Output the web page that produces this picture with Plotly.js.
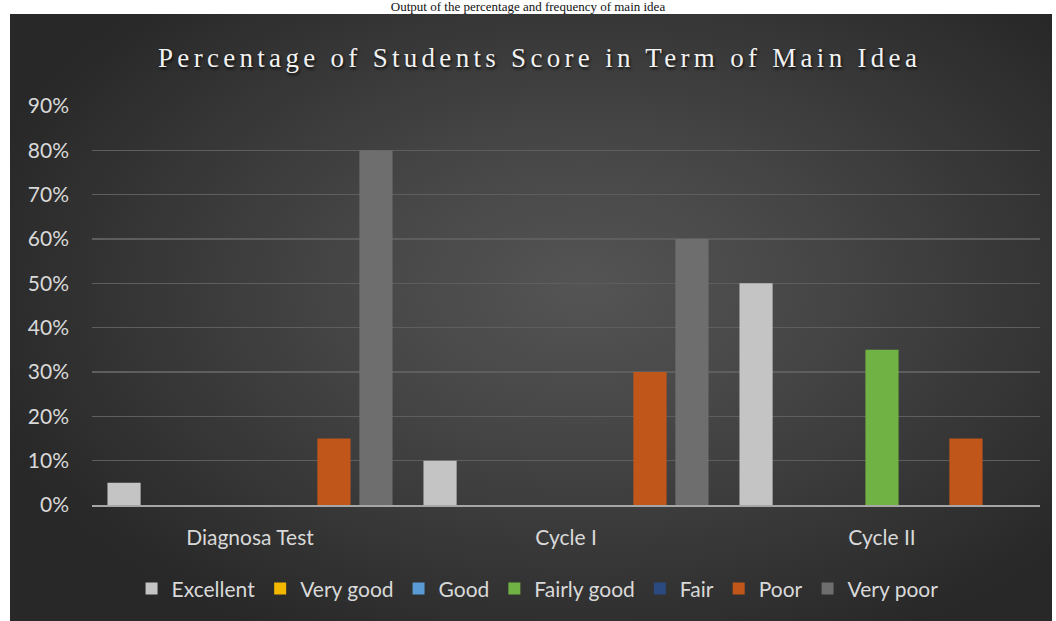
<!DOCTYPE html>
<html>
<head>
<meta charset="utf-8">
<script src="https://cdn.plot.ly/plotly-3.0.1.min.js"></script>
<style>
  html, body { margin:0; padding:0; background:#ffffff; }
  #wrap { position:relative; width:1056px; height:621px; overflow:hidden; background:#ffffff; }
  #caption { position:absolute; left:0; top:0px; width:1056px; text-align:center; line-height:13px;
    font-family:"Liberation Serif", serif; font-size:13px; color:#111; white-space:nowrap; }
  #bg { position:absolute; left:10px; top:14px; width:1042px; height:607px;
    background: radial-gradient(ellipse 60% 65% at 55% 45%, #545454 0%, #474747 35%, #343434 75%, #282828 100%); }
  #chart { position:absolute; left:0; top:0; width:1056px; height:621px; }
  #chart .gtitle { letter-spacing: 4.3px; }
</style>
</head>
<body>
<div id="wrap">
  <div id="caption">Output of the percentage and frequency of main idea</div>
  <div id="bg"></div>
  <div id="chart"></div>
</div>
<script>
const categories = ["Diagnosa Test", "Cycle I", "Cycle II"];
const seriesNames = ["Excellent", "Very good", "Good", "Fairly good", "Fair", "Poor", "Very poor"];
const excellent  = [5, 10, 50];
const veryGood   = [0, 0, 0];
const good       = [0, 0, 0];
const fairlyGood = [0, 0, 35];
const fair       = [0, 0, 0];
const poor       = [15, 30, 15];
const veryPoor   = [80, 60, 0];
const seriesValues = [excellent, veryGood, good, fairlyGood, fair, poor, veryPoor];
const seriesColors = ["#c4c4c4", "#f2b800", "#5b9bd5", "#70b244", "#2b4a80", "#c0561a", "#6e6e6e"];
const yTickValues = [0, 10, 20, 30, 40, 50, 60, 70, 80, 90];
const yTickLabels = ["0%", "10%", "20%", "30%", "40%", "50%", "60%", "70%", "80%", "90%"];

const traces = seriesNames.map((name, i) => ({
  type: "bar",
  name: name,
  x: categories,
  y: seriesValues[i],
  marker: { color: seriesColors[i], line: { width: 0 } },
  hoverinfo: "x+y+name"
}));

const textColor = "#d9d9d9";
const layout = {
  width: 1056,
  height: 621,
  paper_bgcolor: "rgba(0,0,0,0)",
  plot_bgcolor: "rgba(0,0,0,0)",
  margin: { l: 92, r: 16, t: 106, b: 116, pad: 0 },
  barmode: "group",
  bargap: 0.07,
  bargroupgap: 0.21,
  font: { family: "Lato, 'Noto Sans', sans-serif", size: 21, color: textColor },
  title: {
    text: "Percentage of Students Score in Term of Main Idea",
    x: 0.511, xanchor: "center",
    y: 0.907, yanchor: "middle", yref: "container",
    font: { family: "'Liberation Serif', serif", size: 27, color: "#f2f2f2", weight: 400,
            shadow: "1px 2px 3px rgba(0,0,0,0.8)" }
  },
  xaxis: {
    type: "category",
    showgrid: false,
    showline: true, linecolor: "#a6a6a6", linewidth: 2,
    ticks: "", ticklabelstandoff: 13,
    tickfont: { size: 21, color: textColor },
    zeroline: false,
    fixedrange: true
  },
  yaxis: {
    range: [0, 90],
    tickmode: "array",
    tickvals: yTickValues,
    ticktext: yTickLabels,
    showgrid: true, gridcolor: "#5e5e5e", gridwidth: 1.5,
    zeroline: false,
    showline: false,
    ticks: "", ticklabelstandoff: 22,
    tickfont: { size: 21, color: textColor },
    fixedrange: true
  },
  legend: {
    orientation: "h",
    x: 0.47, xanchor: "center",
    y: -0.21, yanchor: "middle",
    font: { size: 21, color: textColor },
    itemwidth: 30,
    traceorder: "normal",
    bgcolor: "rgba(0,0,0,0)"
  },
  showlegend: true
};

Plotly.newPlot("chart", traces, layout, { displayModeBar: false, staticPlot: true });
</script>
</body>
</html>
